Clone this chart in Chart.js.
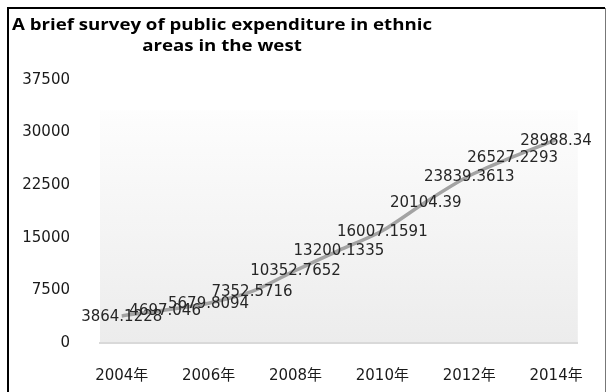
<!DOCTYPE html>
<html>
<head>
<meta charset="utf-8">
<script src="https://cdn.jsdelivr.net/npm/chart.js@4/dist/chart.umd.min.js"></script>
<style>
  html, body { margin: 0; padding: 0; background: #ffffff; }
  #wrap { width: 607px; height: 392px; position: relative; }
</style>
</head>
<body>
<div id="wrap"><canvas id="c" width="607" height="392"></canvas></div>
<script>
const titleLines = ["A brief survey of public expenditure in ethnic", "areas in the west"];
const categories = ["2004年","2005年","2006年","2007年","2008年","2009年","2010年","2011年","2012年","2013年","2014年"];
const expenditure = [3864.1228, 4697.046, 5679.8094, 7352.5716, 10352.7652, 13200.1335, 16007.1591, 20104.39, 23839.3613, 26527.2293, 28988.34];
const valueLabels = ["3864.1228","4697.046","5679.8094","7352.5716","10352.7652","13200.1335","16007.1591","20104.39","23839.3613","26527.2293","28988.34"];
const yTicks = [0, 7500, 15000, 22500, 30000, 37500];

const TICK_FONT = { family: "'DejaVu Sans', Verdana, sans-serif", size: 15 };

const framePlugin = {
  id: 'frame',
  beforeDraw(chart) {
    const { ctx, chartArea: a } = chart;
    ctx.save();
    const top = a.top + (a.bottom - a.top) * 0.115;
    const g = ctx.createLinearGradient(0, top, 0, a.bottom);
    g.addColorStop(0, '#fdfdfd');
    g.addColorStop(1, '#ececec');
    ctx.fillStyle = g;
    ctx.fillRect(a.left, top, a.right - a.left, a.bottom - top);
    ctx.restore();
  },
  afterDraw(chart) {
    const { ctx } = chart;
    ctx.save();
    // frame
    ctx.strokeStyle = '#000';
    ctx.lineWidth = 2;
    ctx.beginPath();
    ctx.moveTo(8, 392);
    ctx.lineTo(8, 8);
    ctx.lineTo(605, 8);
    ctx.stroke();
    ctx.strokeStyle = '#777';
    ctx.lineWidth = 1;
    ctx.beginPath();
    ctx.moveTo(605.5, 8);
    ctx.lineTo(605.5, 392);
    ctx.stroke();
    // title (horizontally stretched like the reference)
    ctx.fillStyle = '#000';
    ctx.font = "bold 16.5px 'Open Sans', Lato, sans-serif";
    ctx.textAlign = 'center';
    ctx.textBaseline = 'middle';
    const sx = 420 / ctx.measureText(titleLines[0]).width;
    ctx.save();
    ctx.translate(222, 0);
    ctx.scale(sx, 1);
    ctx.fillText(titleLines[0], 0, 25);
    ctx.fillText(titleLines[1], 0, 46);
    ctx.restore();
    // data labels
    const meta = chart.getDatasetMeta(0);
    ctx.font = TICK_FONT.size + "px " + TICK_FONT.family;
    ctx.fillStyle = '#262626';
    meta.data.forEach((pt, i) => {
      const txt = valueLabels[i];
      const w = ctx.measureText(txt).width;
      let x = pt.x;
      if (x + w / 2 > 603) x = 603 - w / 2;
      ctx.fillText(txt, x, pt.y + 1);
    });
    ctx.restore();
  }
};

new Chart(document.getElementById('c'), {
  type: 'line',
  data: {
    labels: categories,
    datasets: [{
      data: expenditure,
      borderColor: '#a3a3a3',
      borderWidth: 3.5,
      pointRadius: 0,
      tension: 0.3,
      fill: false
    }]
  },
  options: {
    responsive: false,
    animation: false,
    layout: { padding: { top: 80, right: 7, left: 0, bottom: 0 } },
    plugins: { legend: { display: false }, title: { display: false }, tooltip: { enabled: false } },
    scales: {
      x: {
        offset: true,
        grid: { display: false, drawTicks: false },
        border: { display: true, color: '#d9d9d9', width: 2 },
        ticks: {
          autoSkip: false,
          maxRotation: 0,
          padding: 24,
          color: '#1a1a1a',
          font: { family: "'DejaVu Sans', 'Noto Sans CJK SC', sans-serif", size: 15 },
          callback: function (v, i) { return i % 2 === 0 ? categories[i] : ''; }
        },
        afterFit(scale) { scale.height = 49; }
      },
      y: {
        min: 0,
        max: 37500,
        grid: { display: false, drawTicks: false },
        border: { display: false },
        afterBuildTicks(scale) { scale.ticks = yTicks.map(v => ({ value: v })); },
        ticks: {
          padding: 30,
          color: '#1a1a1a',
          font: TICK_FONT,
          callback: function (v) { return String(v); }
        },
        afterFit(scale) { scale.width = 100; }
      }
    }
  },
  plugins: [framePlugin]
});
</script>
</body>
</html>
